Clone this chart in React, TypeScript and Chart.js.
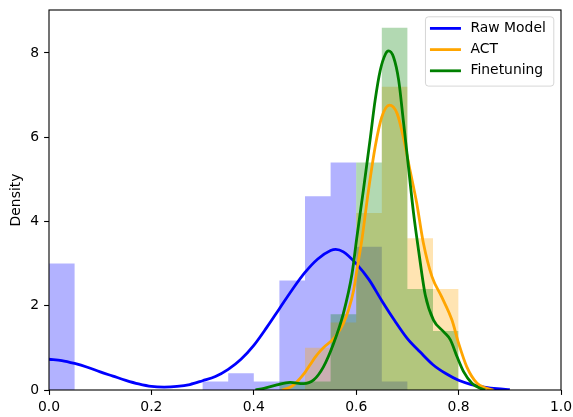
import React, { useEffect, useRef } from 'react';
import { Chart, registerables } from 'chart.js';

Chart.register(...registerables);

// Histogram bins (width 0.05): left edges plus final right edge; values are densities
const BIN_EDGES = [0, 0.05, 0.1, 0.15, 0.2, 0.25, 0.3, 0.35, 0.4, 0.45, 0.5, 0.55, 0.6, 0.65, 0.7, 0.75, 0.8];
const RAW_HIST = [3.0, 0, 0, 0, 0, 0, 0.2, 0.4, 0.2, 2.6, 4.6, 5.4, 3.4, 0.2, 0, 0];
const ACT_HIST = [0, 0, 0, 0, 0, 0, 0, 0, 0, 0, 1.0, 1.6, 4.2, 7.2, 3.6, 2.4];
const FT_HIST = [0, 0, 0, 0, 0, 0, 0, 0, 0, 0.2, 0.2, 1.8, 5.4, 8.6, 2.4, 1.4];

// KDE curves
const RAW_KDE_X = [0.0, 0.025, 0.05, 0.075, 0.1, 0.125, 0.15, 0.175, 0.2, 0.225, 0.25, 0.275, 0.3, 0.325, 0.35, 0.375, 0.4, 0.425, 0.45, 0.475, 0.5, 0.525, 0.55, 0.56, 0.575, 0.6, 0.625, 0.65, 0.675, 0.7, 0.725, 0.75, 0.775, 0.8, 0.825, 0.85, 0.875, 0.9];
const RAW_KDE_Y = [0.73, 0.70, 0.63, 0.54, 0.43, 0.33, 0.23, 0.145, 0.085, 0.07, 0.085, 0.13, 0.22, 0.32, 0.49, 0.73, 1.06, 1.48, 1.93, 2.38, 2.79, 3.11, 3.31, 3.34, 3.28, 3.0, 2.62, 2.12, 1.65, 1.22, 0.9, 0.6, 0.39, 0.23, 0.13, 0.07, 0.03, 0.01];

const ACT_KDE_X = [0.455, 0.47, 0.48, 0.49, 0.5, 0.51, 0.52, 0.53, 0.54, 0.55, 0.56, 0.575, 0.585, 0.595, 0.602, 0.611, 0.624, 0.637, 0.65, 0.665, 0.68, 0.692, 0.705, 0.718, 0.731, 0.748, 0.767, 0.787, 0.8, 0.816, 0.836, 0.855, 0.868];
const ACT_KDE_Y = [0, 0.06, 0.14, 0.27, 0.42, 0.6, 0.78, 0.93, 1.05, 1.15, 1.28, 1.58, 1.9, 2.37, 2.9, 3.56, 4.74, 5.77, 6.48, 6.76, 6.56, 6.0, 5.22, 4.45, 3.5, 2.69, 2.21, 1.66, 1.11, 0.55, 0.16, 0.04, 0.0];

const FT_KDE_X = [0.403, 0.42, 0.445, 0.471, 0.497, 0.517, 0.536, 0.556, 0.575, 0.592, 0.601, 0.614, 0.627, 0.637, 0.647, 0.657, 0.663, 0.673, 0.683, 0.692, 0.702, 0.712, 0.722, 0.735, 0.751, 0.771, 0.784, 0.797, 0.81, 0.826, 0.842, 0.852];
const FT_KDE_Y = [0.0, 0.04, 0.12, 0.18, 0.15, 0.24, 0.55, 1.11, 1.82, 2.77, 3.6, 4.74, 5.93, 6.88, 7.59, 7.97, 8.05, 7.9, 7.35, 6.4, 5.3, 4.2, 3.3, 2.25, 1.66, 1.38, 1.19, 0.79, 0.43, 0.16, 0.04, 0.0];

const SERIES_LABELS = ['Raw Model', 'ACT', 'Finetuning'];
const X_TICKS = [0, 0.2, 0.4, 0.6, 0.8, 1.0];
const Y_TICKS = [0, 2, 4, 6, 8];
const X_MIN = 0;
const X_MAX = 1.0;
const Y_MIN = 0;
const Y_MAX = 9.02;

const FONT = '"DejaVu Sans", sans-serif';
const FS = 13.9;

const LINE_COLORS = ['#0000ff', '#ffa500', '#008000'];
const BAR_COLORS = ['rgba(0,0,255,0.3)', 'rgba(255,165,0,0.3)', 'rgba(0,128,0,0.3)'];

const framePlugin = {
  id: 'frame',
  afterDatasetsDraw(chart: any) {
    const { ctx, chartArea } = chart;
    ctx.save();
    ctx.strokeStyle = '#000';
    ctx.lineWidth = 1.1;
    ctx.strokeRect(chartArea.left, chartArea.top, chartArea.right - chartArea.left, chartArea.bottom - chartArea.top);
    ctx.restore();
  },
};

const legendPlugin = {
  id: 'boxLegend',
  afterDraw(chart: any) {
    const { ctx, chartArea } = chart;
    ctx.save();
    ctx.font = `${FS}px ${FONT}`;
    const textW = Math.max(...SERIES_LABELS.map((l) => ctx.measureText(l).width));
    const padL = 4.5, handle = 31, gap = 9.5, padR = 8;
    const rowH = 21.2, padT = 11.6, padB = 15.3;
    const w = padL + handle + gap + textW + padR;
    const h = padT + rowH * (SERIES_LABELS.length - 1) + padB;
    const right = chartArea.right - 7.2;
    const top = chartArea.top + 6.8;
    const left = right - w;
    const r = 3;
    ctx.beginPath();
    ctx.moveTo(left + r, top);
    ctx.arcTo(left + w, top, left + w, top + h, r);
    ctx.arcTo(left + w, top + h, left, top + h, r);
    ctx.arcTo(left, top + h, left, top, r);
    ctx.arcTo(left, top, left + w, top, r);
    ctx.closePath();
    ctx.fillStyle = 'rgba(255,255,255,0.8)';
    ctx.fill();
    ctx.strokeStyle = 'rgba(204,204,204,0.8)';
    ctx.lineWidth = 1;
    ctx.stroke();
    SERIES_LABELS.forEach((label, i) => {
      const cy = top + padT + i * rowH;
      ctx.beginPath();
      ctx.strokeStyle = LINE_COLORS[i];
      ctx.lineWidth = 2.8;
      ctx.moveTo(left + padL, cy);
      ctx.lineTo(left + padL + handle, cy);
      ctx.stroke();
      ctx.fillStyle = '#000';
      ctx.textAlign = 'left';
      ctx.textBaseline = 'middle';
      ctx.fillText(label, left + padL + handle + gap, cy);
    });
    ctx.restore();
  },
};

export default function App() {
  const ref = useRef<HTMLCanvasElement | null>(null);

  useEffect(() => {
    if (!ref.current) return;
    Chart.defaults.font.family = FONT;
    Chart.defaults.font.size = FS;
    Chart.defaults.color = '#000';

    const hists = [RAW_HIST, ACT_HIST, FT_HIST];
    const kdes = [
      [RAW_KDE_X, RAW_KDE_Y],
      [ACT_KDE_X, ACT_KDE_Y],
      [FT_KDE_X, FT_KDE_Y],
    ];

    // Histograms: one filled step outline per series (no seams between adjacent bins)
    const histSets = hists.map((vals, i) => ({
      type: 'line' as const,
      label: SERIES_LABELS[i] + ' hist',
      data: BIN_EDGES.map((e, j) => ({ x: e, y: j < vals.length ? vals[j] : 0 })),
      stepped: 'before' as const,
      fill: 'origin',
      backgroundColor: BAR_COLORS[i],
      borderWidth: 0,
      borderColor: 'rgba(0,0,0,0)',
      pointRadius: 0,
      order: 6 - i,
    }));

    const lineSets = kdes.map(([xs, ys], i) => ({
      type: 'line' as const,
      label: SERIES_LABELS[i],
      data: xs.map((x, j) => ({ x, y: ys[j] })),
      borderColor: LINE_COLORS[i],
      backgroundColor: LINE_COLORS[i],
      borderWidth: 2.8,
      pointRadius: 0,
      fill: false,
      cubicInterpolationMode: 'monotone' as const,
      order: 3 - i,
    }));

    const chart = new Chart(ref.current, {
      type: 'line',
      data: { datasets: [...histSets, ...lineSets] as any },
      options: {
        responsive: false,
        devicePixelRatio: 1,
        animation: false,
        layout: { padding: { top: 10, right: 12, bottom: 0, left: 0 } },
        plugins: { legend: { display: false }, tooltip: { enabled: false } },
        scales: {
          x: {
            type: 'linear',
            min: X_MIN,
            max: X_MAX,
            offset: false,
            grid: { display: true, offset: false, drawOnChartArea: false, drawTicks: true, tickLength: 4.9, tickColor: '#000', tickWidth: 1.1 },
            border: { display: false },
            afterBuildTicks: (s: any) => { s.ticks = X_TICKS.map((v) => ({ value: v })); },
            afterFit: (s: any) => { s.height = 27; s.paddingLeft = 0; s.paddingRight = 0; },
            ticks: {
              padding: 4,
              maxRotation: 0,
              autoSkip: false,
              color: '#000',
              font: { size: FS, family: FONT },
              callback: (v: any) => Number(v).toFixed(1),
            },
          },
          y: {
            type: 'linear',
            min: Y_MIN,
            max: Y_MAX,
            grid: { display: true, drawOnChartArea: false, drawTicks: true, tickLength: 4.9, tickColor: '#000', tickWidth: 1.1 },
            border: { display: false },
            afterBuildTicks: (s: any) => { s.ticks = Y_TICKS.map((v) => ({ value: v })); },
            afterFit: (s: any) => { s.width = 49; s.paddingTop = 0; s.paddingBottom = 0; },
            title: { display: true, text: 'Density', color: '#000', font: { size: FS, family: FONT }, padding: { top: 7.7, bottom: 0 } },
            ticks: {
              padding: 5,
              color: '#000',
              font: { size: FS, family: FONT },
              callback: (v: any) => String(v),
            },
          },
        },
      },
      plugins: [framePlugin, legendPlugin],
    });
    return () => chart.destroy();
  }, []);

  return (
    <div style={{ position: 'fixed', left: 0, top: 0, width: 573, height: 417, background: '#fff' }}>
      <canvas ref={ref} width={573} height={417} style={{ width: 573, height: 417, display: 'block' }} />
    </div>
  );
}
